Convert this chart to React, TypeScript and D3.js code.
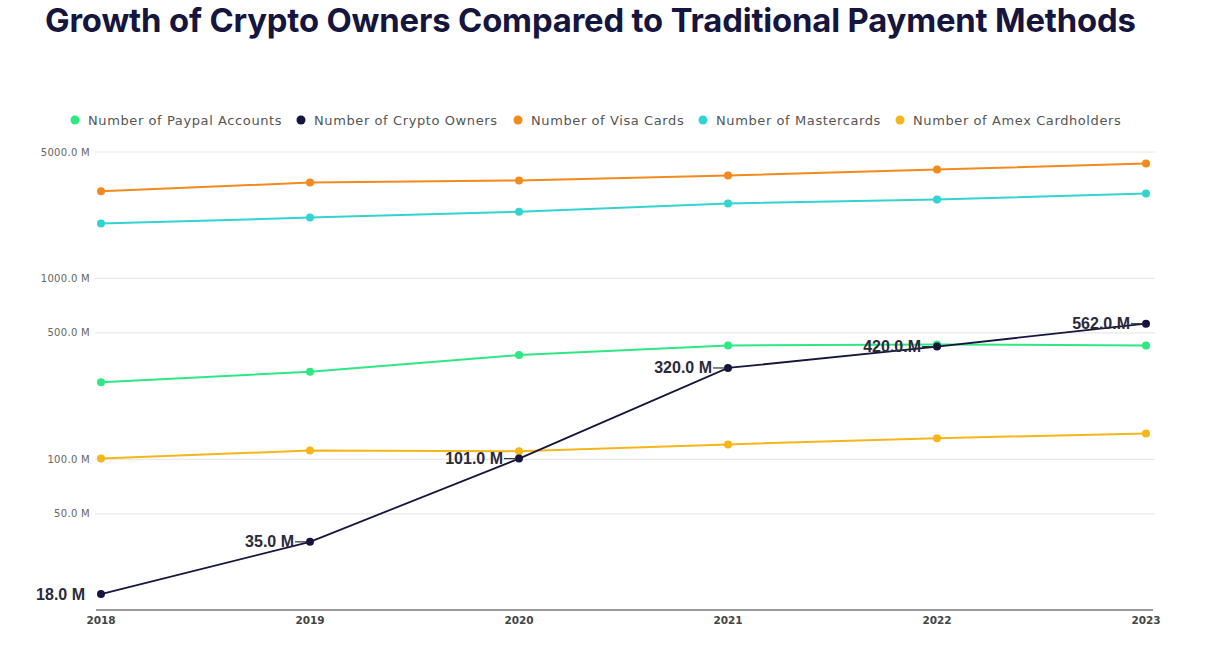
import React from "react";
import * as d3 from "d3";

const years = ["2018", "2019", "2020", "2021", "2022", "2023"];
const paypal = [267, 305, 377, 426, 432, 426];
const crypto = [18, 35, 101, 320, 420, 562];
const visa = [3030, 3390, 3480, 3710, 4000, 4320];
const mastercard = [2010, 2170, 2340, 2600, 2730, 2950];
const amex = [101, 112, 111, 121, 131, 139];
const cryptoLabels = ["18.0 M", "35.0 M", "101.0 M", "320.0 M", "420.0.M", "562.0.M"];
const yTicks = [50, 100, 500, 1000, 5000];

const seriesNames = [
  "Number of Paypal Accounts",
  "Number of Crypto Owners",
  "Number of Visa Cards",
  "Number of Mastercards",
  "Number of Amex Cardholders",
];
const seriesValues = [paypal, crypto, visa, mastercard, amex];
const seriesColors = ["#2ee883", "#15153d", "#f28a1d", "#33d3d1", "#f6b519"];
const legendX = [75, 301, 518, 703, 900];
const drawOrder = [2, 3, 0, 4, 1];

export default function App() {
  const W = 1209, H = 647;
  const x = d3.scalePoint<string>().domain(years).range([101, 1146]);
  const y = d3.scaleLog().domain([14.7, 5000]).range([610, 152]);
  const line = (vals: number[]) =>
    d3.line<number>().x((_, i) => x(years[i]) as number).y((v) => y(v))(vals) || "";

  return (
    <svg width={W} height={H} style={{ position: "absolute", left: 0, top: 0, background: "#fff" }}>
      <text x={45} y={32} fontFamily="Inter, 'Open Sans', sans-serif" fontWeight={700} fontSize={32.8} fill="#15153d" letterSpacing={-0.15}>
        Growth of Crypto Owners Compared to Traditional Payment Methods
      </text>

      {seriesNames.map((n, i) => (
        <g key={n}>
          <circle cx={legendX[i]} cy={120} r={4.5} fill={seriesColors[i]} />
          <text x={legendX[i] + 13} y={124.5} fontFamily="'DejaVu Sans', Verdana, sans-serif" fontSize={13} letterSpacing={0.6} fill="#555">
            {n}
          </text>
        </g>
      ))}

      {yTicks.map((t) => (
        <g key={t}>
          <line x1={95} x2={1155} y1={y(t)} y2={y(t)} stroke="#e8e8e8" strokeWidth={1.2} />
          <text x={90} y={y(t) + 3.5} textAnchor="end" fontFamily="'DejaVu Sans', Verdana, sans-serif" fontSize={10} letterSpacing={0.3} fill="#666">
            {d3.format(".1f")(t)} M
          </text>
        </g>
      ))}
      <line x1={96} x2={1153} y1={610} y2={610} stroke="#9a9a9a" strokeWidth={2} />
      {years.map((yr) => (
        <text key={yr} x={x(yr)} y={624} textAnchor="middle" fontFamily="'DejaVu Sans', Verdana, sans-serif" fontWeight={700} fontSize={10.5} fill="#444">
          {yr}
        </text>
      ))}

      {drawOrder.map((si) => (
        <g key={si}>
          <path d={line(seriesValues[si])} fill="none" stroke={seriesColors[si]} strokeWidth={si === 1 ? 1.8 : 2} />
          {seriesValues[si].map((v, i) => (
            <circle key={i} cx={x(years[i])} cy={y(v)} r={4} fill={seriesColors[si]} />
          ))}
        </g>
      ))}

      {crypto.map((v, i) => {
        const px = x(years[i]) as number;
        const py = y(v);
        return (
          <g key={i}>
            {i > 0 && <line x1={px - 15} x2={px - 3} y1={py} y2={py} stroke="#333" strokeWidth={1.2} />}
            <text x={px - 16} y={py + 5.5} textAnchor="end" fontFamily="'Liberation Sans', Arial, sans-serif" fontWeight={700} fontSize={16} fill="#2a2a3a">
              {cryptoLabels[i]}
            </text>
          </g>
        );
      })}
    </svg>
  );
}
